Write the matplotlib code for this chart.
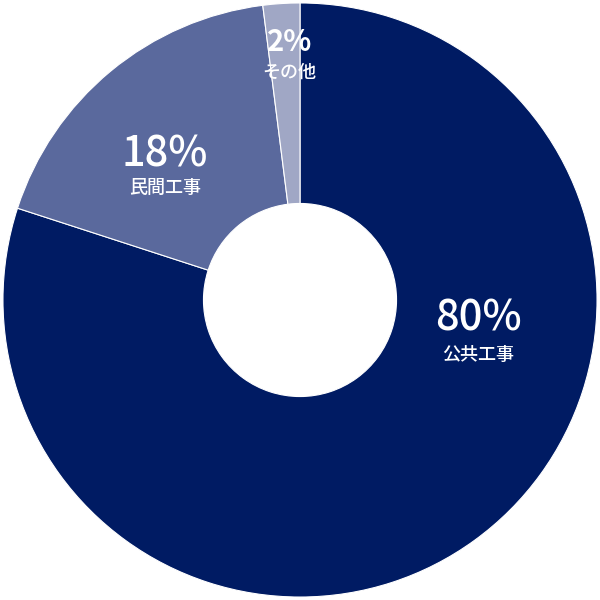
import matplotlib
matplotlib.use("Agg")
import matplotlib.pyplot as plt

plt.rcParams['font.family'] = ['Noto Sans CJK JP', 'DejaVu Sans']

categories = ['公共工事', '民間工事', 'その他']
shares = [80, 18, 2]
colors = ['#001b63', '#5a699d', '#a0a7c5']
# text spots (number, label) in data units, picked by eye
spots = [(0.60, -0.06, -0.185), (-0.455, 0.49, 0.378), (-0.035, 0.868, 0.765)]

fig = plt.figure(figsize=(6, 6), dpi=100)
ax = fig.add_axes([0, 0, 1, 1])
ax.pie(shares, colors=colors, startangle=90, counterclock=False, radius=1.0,
       wedgeprops=dict(width=0.675, edgecolor='white', linewidth=0.8))

for (x, yn, yl), s, c in zip(spots, shares, categories):
    small = s < 5
    ax.text(x, yn, f'{s}%', color='white', fontsize=21 if small else 30,
            ha='center', va='center', fontweight='bold' if small else 'medium')
    ax.text(x, yl, c, color='white', fontsize=13, ha='center', va='center',
            fontweight='medium')

ax.set_xlim(-1.01, 1.01)
ax.set_ylim(-1.01, 1.01)
ax.set_aspect('equal')
ax.axis('off')
fig.savefig('out.png', dpi=100, facecolor='white')
